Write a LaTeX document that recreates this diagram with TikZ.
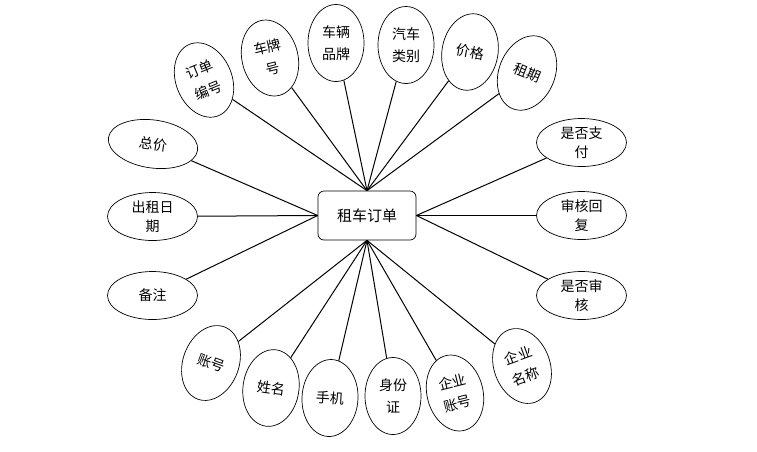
\documentclass[tikz,border=0pt]{standalone}
\usepackage{fontspec}
\setmainfont{Noto Sans CJK SC}
\usetikzlibrary{shapes.geometric}

\begin{document}
\begin{tikzpicture}[
  x=1pt, y=-1pt,
  entity/.style={draw, rounded corners=6pt, minimum width=98pt, minimum height=49pt, line width=0.7pt, font=\fontsize{15}{18}\selectfont},
  attr/.style={draw, ellipse, inner sep=0pt, minimum width=90pt, minimum height=48pt, line width=0.7pt, align=center, font=\fontsize{14}{19}\selectfont},
  attrv/.style={attr, minimum width=56pt, minimum height=77pt, font=\fontsize{14}{22}\selectfont},
  link/.style={line width=1pt}
]
\useasboundingbox (0,0) rectangle (757,451);
\node[entity] (order) at (367,215.5) {租车订单};
% left and right
\node[attr, rotate=-8] (total) at (153,144) {总价};
\node[attr] (rentdate) at (152.5,216.5) {出租日\\期};
\node[attr] (remark) at (152.5,295.5) {备注};
\node[attr] (payok) at (581.5,142.5) {是否支\\付};
\node[attr] (reply) at (581.5,215.5) {审核回\\复};
\node[attr] (audited) at (581.5,295.5) {是否审\\核};
% top
\node[attrv, rotate=22] (orderno) at (204,80) {订单\\编号};
\node[attrv, rotate=14] (plate) at (270,58) {车牌\\号};
\node[attrv] (brand) at (336,43) {车辆\\品牌};
\node[attrv] (cartype) at (406,45) {汽车\\类别};
\node[attrv, rotate=-10] (price) at (470,52) {价格};
\node[attrv, rotate=-22] (period) at (527,73) {租期};
% bottom
\node[attrv, rotate=-20] (account) at (211,363) {账号};
\node[attrv, rotate=-8] (name) at (271,388) {姓名};
\node[attrv, rotate=-3] (phone) at (330,398) {手机};
\node[attrv] (idcard) at (393,396) {身份\\证};
\node[attrv, rotate=14] (entacct) at (455,393) {企业\\账号};
\node[attrv, rotate=20] (entname) at (522,366) {企业\\名称};
\draw[link] (total) -- (order.west);
\draw[link] (rentdate) -- (order.west);
\draw[link] (remark) -- (order.west);
\draw[link] (payok) -- (order.east);
\draw[link] (reply) -- (order.east);
\draw[link] (audited) -- (order.east);
\draw[link] (orderno) -- (order.north);
\draw[link] (plate) -- (order.north);
\draw[link] (brand) -- (order.north);
\draw[link] (cartype) -- (order.north);
\draw[link] (price) -- (order.north);
\draw[link] (period) -- (order.north);
\draw[link] (account) -- (order.south);
\draw[link] (name) -- (order.south);
\draw[link] (phone) -- (order.south);
\draw[link] (idcard) -- (order.south);
\draw[link] (entacct) -- (order.south);
\draw[link] (entname) -- (order.south);
\end{tikzpicture}
\end{document}
